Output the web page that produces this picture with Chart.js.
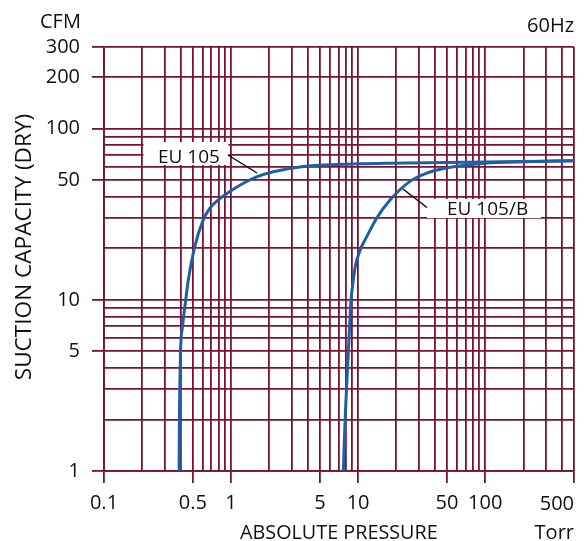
<!DOCTYPE html>
<html><head><meta charset="utf-8">
<script src="https://cdn.jsdelivr.net/npm/chart.js@4.4.1/dist/chart.umd.min.js"></script>
<style>html,body{margin:0;padding:0;background:#fff;overflow:hidden}</style>
</head><body>
<canvas id="c" width="587" height="541"></canvas>
<script>
// ---- data ----
const eu105X = [0.39, 0.392, 0.395, 0.40, 0.415, 0.44, 0.461, 0.514, 0.605, 0.684, 0.795, 0.98, 1.25, 1.59, 2.15, 3.47, 10, 18, 100, 500];
const eu105Y = [1, 2, 3, 5, 7, 10, 13.1, 20, 29.4, 34.4, 38.4, 43, 48, 52.3, 56, 59.8, 62.3, 62.9, 63.8, 65];
const eu105bX = [7.65, 7.9, 8.1, 8.38, 8.8, 9.1, 9.5, 10.4, 11.7, 14.0, 17.9, 25.6, 34.7, 47, 67, 100, 200, 500];
const eu105bY = [1, 2, 3, 5, 10, 12.5, 15.7, 19.6, 23.4, 30, 38.4, 49.2, 55, 58.5, 61, 62.8, 64, 65];
const seriesNames = ['EU 105', 'EU 105/B'];
const xTickLabels = ['0.1', '0.5', '1', '5', '10', '50', '100', '500'];
const yTickLabels = ['1', '5', '10', '50', '100', '200', '300'];
const xDecades = [0.1, 1, 10, 100];
const yDecades = [1, 10, 100];
const xMin = 0.1, xMax = 500, yMin = 1, yMax = 300;

const GRID = '#7a1232';
const CURVE = '#1f5fa8';
const FONT = "'Open Sans'";

function gridValues(decades, max) {
  const out = [];
  decades.forEach(d => { for (let m = 1; m <= 9; m++) { const v = parseFloat((m * d).toPrecision(6)); if (v <= max + 1e-9) out.push(v); } });
  return out;
}
function findLabel(list, v) {
  return list.find(l => Math.abs(parseFloat(l) - v) / v < 1e-6);
}
const xGrid = gridValues(xDecades, xMax);
const yGrid = gridValues(yDecades, yMax);

const toPts = (xs, ys) => xs.map((x, i) => ({ x: x, y: ys[i] }));

const annot = {
  id: 'annot',
  beforeDatasetsDraw(chart) {
    const ctx = chart.ctx;
    ctx.save();
    ctx.fillStyle = '#fff';
    ctx.fillRect(143.5, 142, 85, 23);
    ctx.fillRect(427, 199, 114, 19);
    ctx.strokeStyle = '#000';
    ctx.lineWidth = 1.4;
    ctx.beginPath();
    ctx.moveTo(228, 155); ctx.lineTo(257, 173);
    ctx.moveTo(403, 189); ctx.lineTo(427, 207.5);
    ctx.stroke();
    ctx.fillStyle = '#111';
    ctx.font = "19px " + FONT;
    ctx.textBaseline = 'alphabetic';
    ctx.textAlign = 'left';
    ctx.fillText(seriesNames[0], 158, 163);
    ctx.fillText(seriesNames[1], 447, 215);
    ctx.restore();
  },
  afterDraw(chart) {
    const ctx = chart.ctx;
    const xs = chart.scales.x;
    ctx.save();
    ctx.fillStyle = '#111';
    ctx.textBaseline = 'alphabetic';
    ctx.font = "20px " + FONT;
    ctx.textAlign = 'left';
    ctx.fillText('CFM', 40, 28);
    ctx.textAlign = 'right';
    ctx.fillText('60Hz', 574, 32);
    // last x tick label, right aligned to its tick
    ctx.fillText(xTickLabels[xTickLabels.length - 1], xs.getPixelForValue(xMax), 510);
    ctx.fillText('Torr', 574, 539);
    ctx.textAlign = 'left';
    ctx.font = "19.8px " + FONT;
    ctx.fillText('ABSOLUTE PRESSURE', 240, 539);
    ctx.translate(31, 247);
    ctx.rotate(-Math.PI / 2);
    ctx.textAlign = 'center';
    ctx.font = "22.6px " + FONT;
    ctx.fillText('SUCTION CAPACITY (DRY)', 0, 0);
    ctx.restore();
  }
};

const isLabeled = (list) => (c) => (c.tick && findLabel(list, c.tick.value)) ? GRID : 'rgba(0,0,0,0)';

new Chart(document.getElementById('c'), {
  type: 'line',
  data: {
    datasets: [
      { label: seriesNames[0], data: toPts(eu105X, eu105Y), borderColor: CURVE, borderWidth: 3, pointRadius: 0, cubicInterpolationMode: 'monotone', fill: false },
      { label: seriesNames[1], data: toPts(eu105bX, eu105bY), borderColor: CURVE, borderWidth: 3, pointRadius: 0, cubicInterpolationMode: 'monotone', fill: false }
    ]
  },
  options: {
    responsive: false,
    animation: false,
    events: [],
    layout: { padding: { left: 0, right: 13, top: 47, bottom: 0 } },
    plugins: { legend: { display: false }, tooltip: { enabled: false } },
    scales: {
      x: {
        type: 'logarithmic', min: xMin, max: xMax,
        afterBuildTicks: (s) => { s.ticks = xGrid.map(v => ({ value: v })); },
        afterFit: (s) => { s.height = 70; s.paddingRight = 0; s.paddingLeft = 0; },
        grid: { color: GRID, lineWidth: 1.8, drawTicks: true, tickLength: 12, tickColor: isLabeled(xTickLabels), tickWidth: 1.8 },
        border: { color: GRID, width: 1.8 },
        ticks: {
          autoSkip: false, maxRotation: 0, minRotation: 0, padding: 8,
          color: '#111', font: { family: FONT, size: 20 },
          callback: (v) => { const l = findLabel(xTickLabels, v); return (l && Math.abs(v - xMax) > 1e-6) ? l : ''; }
        }
      },
      y: {
        type: 'logarithmic', min: yMin, max: yMax,
        afterBuildTicks: (s) => { s.ticks = yGrid.map(v => ({ value: v })); },
        afterFit: (s) => { s.width = 104; s.paddingTop = 0; s.paddingBottom = 0; },
        grid: { color: GRID, lineWidth: 1.8, drawTicks: true, tickLength: 12, tickColor: isLabeled(yTickLabels), tickWidth: 1.8 },
        border: { color: GRID, width: 1.8 },
        ticks: {
          autoSkip: false, padding: 12,
          color: '#111', font: { family: FONT, size: 20 },
          callback: (v) => findLabel(yTickLabels, v) || ''
        }
      }
    }
  },
  plugins: [annot]
});
</script>
</body></html>
